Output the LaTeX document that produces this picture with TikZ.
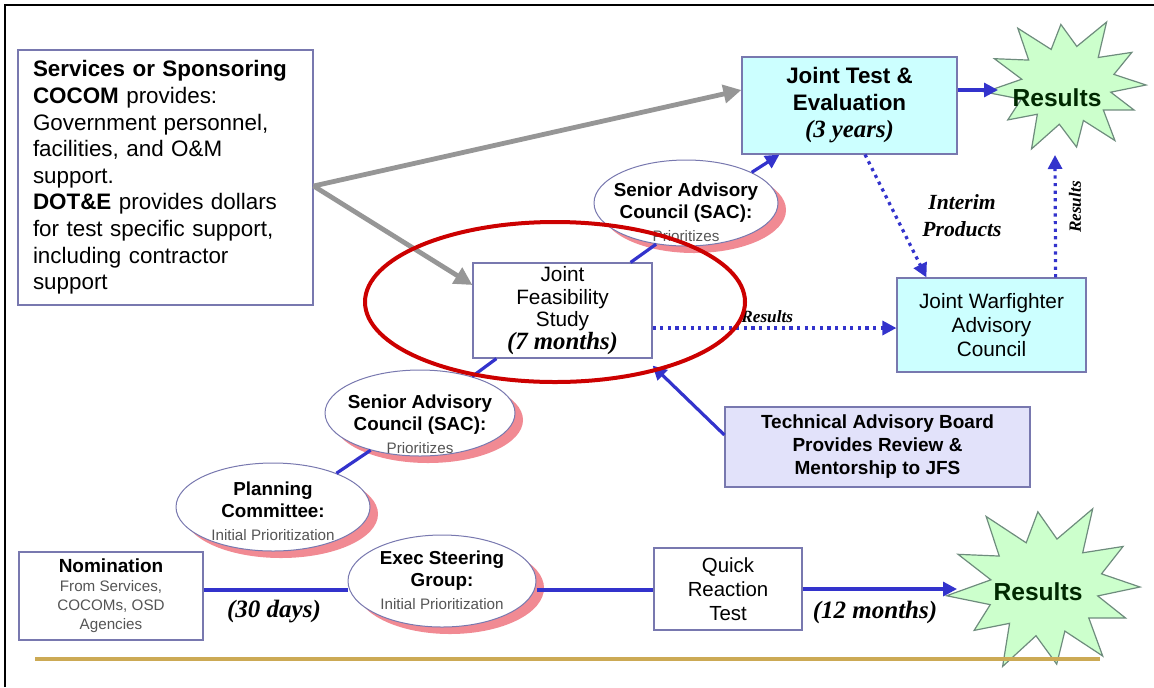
\documentclass[tikz,border=0pt]{standalone}
\usepackage{fontspec}
\setmainfont{Liberation Sans}
\newfontfamily\tnr{Liberation Serif}
\usetikzlibrary{shapes.geometric,arrows.meta,shadows,calc}

\definecolor{edge}{RGB}{120,120,175}
\definecolor{palecyan}{RGB}{204,255,255}
\definecolor{lavender}{RGB}{226,226,250}
\definecolor{flowblue}{RGB}{51,51,204}
\definecolor{supplygray}{RGB}{150,150,150}
\definecolor{hilite}{RGB}{204,0,0}
\definecolor{rulegold}{RGB}{204,170,85}
\definecolor{shadepink}{RGB}{238,118,128}
\definecolor{burstfill}{RGB}{204,255,204}
\definecolor{burstedge}{RGB}{110,140,125}
\definecolor{resgreen}{RGB}{0,40,0}
\definecolor{notegray}{RGB}{85,85,85}

\newcommand{\smallnote}[1]{{\mdseries\fontsize{7.6}{9}\selectfont\color{notegray}#1}}
\newcommand{\dur}[1]{{\tnr\bfseries\itshape\fontsize{12.4}{14}\selectfont #1}}
\newcommand{\inoval}[2][0pt]{\makebox[0pt]{\raisebox{\dimexpr-0.6ex-#1\relax}[0pt][0pt]{%
  \begin{tabular}{@{}c@{}}#2\end{tabular}}}}
\newcommand{\burstrays}{15/.62,31/.96,46/.58,62/1.08,77/.6,94/.92,109/.57,125/1.05,%
  141/.6,156/.98,171/.56,186/1.02,201/.6,216/.9,231/.57,246/1.06,262/.6,278/.95,%
  292/.58,306/1.04,321/.6,336/.93,349/.57}
\newcommand{\burst}[3]{\draw[burst] ($#1+(0:#2 and #3)$)
  \foreach \ang/\rad in \burstrays {-- ($#1+(\ang:{\rad*#2} and {\rad*#3})$)} -- cycle;}

\tikzset{
  box/.style={draw=edge, line width=0.6pt, fill=white, inner sep=0pt, align=center},
  cyanbox/.style={box, fill=palecyan},
  council/.style={ellipse, draw=edge, line width=0.5pt, fill=white, inner sep=0pt,
    font=\bfseries\fontsize{9.4}{11.3}\selectfont,
    drop shadow={shadow xshift=4pt, shadow yshift=-3.5pt, fill=shadepink, opacity=0.85}},
  flow/.style={draw=flowblue, line width=1.6pt},
  flowarrow/.style={flow, -{Triangle[length=7pt,width=7pt]}},
  feed/.style={flowarrow, dash pattern=on 1.6pt off 2.2pt},
  supply/.style={draw=supplygray, line width=2.4pt, -{Triangle[length=9pt,width=9pt]}},
  burst/.style={draw=burstedge, line width=0.6pt, fill=burstfill},
  restxt/.style={font=\bfseries\fontsize{12.3}{14}\selectfont, text=resgreen},
  spanlab/.style={font=\tnr\bfseries\itshape\fontsize{12.5}{14}\selectfont},
  smalllab/.style={font=\tnr\bfseries\itshape\fontsize{8.6}{10}\selectfont}
}

\begin{document}
\begin{tikzpicture}[x=0.5pt,y=-0.5pt,>=latex]
\useasboundingbox (0,0) rectangle (1154,687);

\draw[line width=1.2pt] (5,687) -- (5,5) -- (1154,5);

% results bursts
\burst{(1066,85)}{40pt}{33pt}
\node[restxt] (res1) at (1057,98) {Results};
\burst{(1044,587)}{48pt}{41pt}
\node[restxt] (res2) at (1038,592) {Results};
\coordinate (res1in) at (998,90);
\coordinate (res1out) at (1055,155);
\coordinate (res2in) at (957,589);

% boxes
\node[box, align=left, text width=132.5pt, inner xsep=7.5pt, minimum height=127.5pt,
  font=\fontsize{11.2}{13.3}\selectfont] (svc) at (165.5,177.5)
  {\textbf{Services or Sponsoring}\\ \textbf{COCOM} provides:\\ Government personnel,\\
   facilities, and O\&M\\ support.\\ \textbf{DOT\&E} provides dollars\\
   for test specific support,\\ including contractor\\ support};
\node[cyanbox, minimum width=107.5pt, minimum height=48.5pt,
  font=\bfseries\fontsize{11.2}{13.5}\selectfont] (jte) at (849.5,105.5)
  {Joint Test \&\\Evaluation\\\dur{(3 years)}};
\node[box, minimum width=89.5pt, minimum height=47.5pt,
  font=\fontsize{10.4}{11.3}\selectfont] (jfs) at (562.5,310.5)
  {Joint\\Feasibility\\Study\\\dur{(7 months)}};
\node[cyanbox, minimum width=94.5pt, minimum height=47pt,
  font=\fontsize{10.4}{11.8}\selectfont] (jwac) at (991.5,325)
  {Joint Warfighter\\Advisory\\Council};
\node[box, fill=lavender, minimum width=152.5pt, minimum height=40pt,
  font=\bfseries\fontsize{9.5}{11.5}\selectfont] (tab) at (877.5,447)
  {Technical Advisory Board\\Provides Review \&\\Mentorship to JFS};
\node[box, minimum width=74pt, minimum height=41pt,
  font=\fontsize{10.2}{12}\selectfont] (qrt) at (728,589) {Quick\\Reaction\\Test};
\node[box, minimum width=92pt, minimum height=44pt,
  font=\bfseries\fontsize{9.5}{9.5}\selectfont] (nom) at (111,596)
  {Nomination\\\smallnote{From Services,}\\\smallnote{COCOMs, OSD}\\\smallnote{Agencies}};

% councils
\node[council, minimum width=92pt, minimum height=43pt] (sacup) at (686,203)
  {\inoval[5pt]{Senior Advisory\\Council (SAC):\\\smallnote{Prioritizes}}};
\node[council, minimum width=95pt, minimum height=43pt] (saclow) at (420,413)
  {\inoval[6pt]{Senior Advisory\\Council (SAC):\\\smallnote{Prioritizes}}};
\node[council, minimum width=97pt, minimum height=44pt] (plan) at (273,507)
  {\inoval[2.5pt]{Planning\\Committee:\\\smallnote{Initial Prioritization}}};
\node[council, minimum width=94pt, minimum height=46pt] (exec) at (442,581)
  {\inoval{Exec Steering\\Group:\\\smallnote{Initial Prioritization}}};

% supply arrows
\draw[supply] ([yshift=-4.25pt]svc.east) -- ([yshift=7.75pt]jte.west);
\draw[supply] ([yshift=-4.25pt]svc.east) -- ([yshift=12.75pt]jfs.west);

% blue flow
\draw[flow] ([yshift=3pt]nom.east) -- ([yshift=3pt]nom.east -| exec.west);
\draw[flow] (plan.28) -- (saclow.217);
\draw[flow] (saclow.35) -- ([xshift=12pt]jfs.south west);
\draw[flow] ([xshift=-11pt]jfs.north east) -- (sacup.234);
\draw[flowarrow] (sacup.25) -- ([xshift=19pt]jte.south west);
\draw[flowarrow] ([yshift=7.75pt]jte.east) -- (res1in);
\draw[flowarrow] ([yshift=6pt]tab.west) -- ([yshift=-3.5pt]jfs.south east);
\draw[flow] ([yshift=-4.5pt]exec.east) -- ([yshift=-4.5pt]exec.east -| qrt.west);
\draw[flowarrow] (qrt.east) -- (res2in);

% dotted feeds
\draw[feed] ([yshift=-8.75pt]jfs.east) -- ([yshift=-8.75pt]jfs.east -| jwac.west)
  node[smalllab, pos=0.47, above=-1.5pt] (reslab) {Results};
\draw[feed] ([xshift=7.75pt]jte.south) -- ([xshift=15pt]jwac.north west);
\draw[feed] ([xshift=-15.5pt]jwac.north east) -- (res1out);

% labels
\node[spanlab] (days) at (274,612) {(30 days)};
\node[spanlab] (months) at (875,612) {(12 months)};
\node[font=\tnr\bfseries\itshape\fontsize{10.8}{13.5}\selectfont, align=center] (interim)
  at (962,216) {Interim\\Products};
\node[smalllab, rotate=90] (reslab2) at (1075,207) {Results};

\draw[rulegold, line width=2pt] (35,659) -- (1100,659);
\draw[hilite, line width=2pt] (555,302) ellipse [x radius=95pt, y radius=40pt];

\end{tikzpicture}
\end{document}
